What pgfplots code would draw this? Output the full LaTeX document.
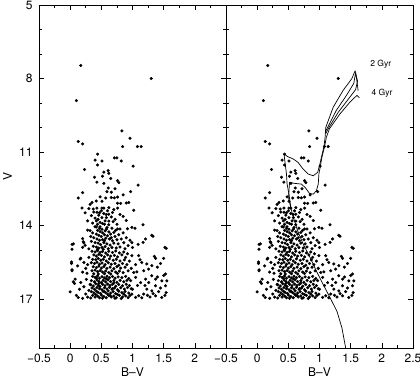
\documentclass[border=0pt]{standalone}
\usepackage{pgfplots}
\pgfplotsset{compat=1.18}
\usepackage{pgfplotstable}
\usepackage{fontspec}
\setmainfont{TeX Gyre Heros}

\pgfplotstableread{
bv V
0.17 7.47
1.30 8.00
0.10 8.90
0.83 10.14
0.96 10.44
0.13 10.57
0.20 10.67
0.84 10.78
1.08 10.78
1.14 10.78
0.44 11.09
0.40 11.33
0.51 11.37
0.71 11.24
0.75 11.24
0.82 11.37
0.44 11.53
1.01 11.58
0.23 11.71
0.54 11.82
0.61 11.76
0.62 11.87
0.52 11.99
0.39 12.03
0.65 12.08
0.76 12.17
0.78 12.25
0.43 12.23
0.54 12.28
1.09 12.35
0.61 12.47
0.72 12.50
0.97 12.62
0.59 12.62
0.66 12.64
0.20 12.66
0.85 12.75
0.13 12.88
0.48 12.83
0.57 12.88
0.66 12.86
0.71 12.87
0.76 12.84
0.35 13.06
0.32 13.14
0.42 13.00
0.51 13.01
0.76 13.09
0.81 13.10
0.90 13.08
0.94 13.06
0.19 13.29
0.30 13.31
0.37 13.33
0.43 13.29
0.51 13.29
0.54 13.29
0.62 13.27
0.76 13.29
1.02 13.38
0.24 13.48
0.43 13.46
0.47 13.48
0.54 13.51
0.62 13.54
0.68 13.47
0.34 13.60
0.46 13.58
0.51 13.68
0.58 13.68
0.85 13.63
0.28 13.81
0.42 13.81
0.48 13.87
0.56 13.81
0.62 13.82
0.69 13.84
0.62 13.97
1.17 13.97
0.40 13.70
0.45 13.75
0.52 13.92
0.58 13.55
0.36 13.90
0.50 13.40
0.66 13.65
0.72 13.75
0.55 13.95
0.44 13.95
0.38 13.45
0.60 13.40
0.70 13.35
0.80 13.55
0.90 13.80
0.75 13.95
0.28 14.19
0.32 14.21
0.42 14.06
0.47 14.11
0.51 14.15
0.59 14.08
0.67 14.11
0.76 14.14
0.80 14.14
0.92 14.13
0.99 14.08
1.04 14.11
1.31 14.40
1.33 14.44
0.20 14.54
0.21 14.66
0.03 14.77
0.03 14.97
0.24 14.81
0.05 14.75
0.22 14.71
0.20 14.89
0.99 14.70
1.09 14.77
1.17 14.69
1.54 14.93
1.21 14.55
1.52 14.89
0.40 14.05
0.44 14.20
0.48 14.25
0.52 14.30
0.56 14.22
0.62 14.26
0.70 14.28
0.36 14.30
0.42 14.35
0.46 14.40
0.50 14.45
0.55 14.38
0.60 14.42
0.65 14.35
0.72 14.45
0.78 14.38
0.85 14.30
0.38 14.50
0.43 14.55
0.47 14.60
0.52 14.58
0.57 14.52
0.63 14.55
0.68 14.62
0.75 14.58
0.82 14.55
0.90 14.50
0.34 14.65
0.40 14.70
0.45 14.72
0.49 14.78
0.54 14.70
0.59 14.75
0.64 14.80
0.70 14.72
0.77 14.75
0.86 14.70
0.93 14.82
0.37 14.85
0.42 14.88
0.46 14.92
0.51 14.90
0.56 14.86
0.61 14.95
0.67 14.90
0.74 14.92
0.80 14.88
0.88 14.95
0.44 14.98
0.53 14.97
0.30 14.95
0.33 14.45
0.58 14.15
0.66 14.50
0.73 14.20
0.48 14.05
0.55 14.62
0.96 14.60
1.00 14.90
0.02 15.49
0.02 15.55
0.03 15.81
0.03 15.85
0.17 15.34
0.16 15.37
0.22 15.51
0.12 15.65
0.25 15.75
0.20 15.90
0.28 15.60
0.30 15.30
0.27 15.95
1.37 15.34
1.50 15.34
1.35 15.26
1.31 15.64
1.53 15.98
0.99 15.23
1.10 15.23
1.15 15.51
1.23 15.57
1.26 15.78
1.18 15.85
1.07 15.89
1.02 15.92
1.40 15.70
1.45 15.55
0.95 15.45
1.05 15.60
0.98 15.75
1.12 15.40
0.35 15.05
0.40 15.08
0.44 15.03
0.48 15.10
0.52 15.06
0.57 15.12
0.62 15.05
0.68 15.10
0.73 15.04
0.79 15.12
0.86 15.08
0.92 15.15
0.38 15.20
0.42 15.25
0.46 15.18
0.50 15.22
0.55 15.28
0.60 15.20
0.65 15.25
0.71 15.22
0.76 15.28
0.83 15.20
0.89 15.30
0.36 15.38
0.41 15.40
0.45 15.35
0.49 15.42
0.53 15.38
0.58 15.45
0.63 15.36
0.69 15.42
0.74 15.38
0.80 15.45
0.87 15.40
0.34 15.52
0.39 15.55
0.43 15.50
0.47 15.58
0.51 15.53
0.56 15.60
0.61 15.52
0.66 15.58
0.72 15.55
0.78 15.62
0.84 15.55
0.91 15.60
0.37 15.68
0.42 15.72
0.46 15.66
0.50 15.74
0.54 15.68
0.59 15.75
0.64 15.70
0.70 15.76
0.75 15.68
0.81 15.74
0.88 15.70
0.35 15.85
0.40 15.82
0.44 15.88
0.48 15.84
0.52 15.90
0.57 15.86
0.62 15.92
0.67 15.85
0.73 15.90
0.79 15.86
0.85 15.92
0.93 15.85
0.38 15.97
0.45 15.98
0.55 15.97
0.65 15.98
0.76 15.96
0.08 16.19
0.05 16.30
0.07 16.37
0.17 16.33
0.00 16.71
0.13 16.94
0.20 16.97
0.10 16.85
0.15 16.60
0.22 16.50
0.25 16.80
0.28 16.92
0.30 16.65
0.32 16.40
0.26 16.20
1.50 16.04
1.31 16.05
1.37 16.19
1.21 16.19
1.13 16.33
1.26 16.33
1.37 16.46
1.23 16.60
1.31 16.67
1.18 16.80
1.37 16.87
1.10 16.87
0.99 16.80
1.47 16.26
1.55 16.26
1.53 16.46
1.54 16.74
1.47 16.94
1.42 16.70
1.28 16.92
1.15 16.95
1.05 16.93
1.00 16.60
1.08 16.45
0.97 16.25
1.05 16.12
1.20 16.45
1.45 16.55
1.33 16.78
1.24 16.85
1.52 16.85
1.40 16.10
0.36 16.08
0.40 16.12
0.44 16.06
0.47 16.15
0.51 16.09
0.55 16.14
0.59 16.07
0.63 16.13
0.68 16.08
0.72 16.15
0.77 16.10
0.83 16.13
0.89 16.08
0.94 16.16
0.34 16.25
0.39 16.30
0.43 16.22
0.46 16.28
0.50 16.33
0.53 16.24
0.57 16.30
0.61 16.22
0.65 16.29
0.70 16.25
0.75 16.32
0.80 16.24
0.86 16.30
0.91 16.24
0.33 16.42
0.37 16.47
0.41 16.38
0.45 16.44
0.48 16.49
0.52 16.40
0.56 16.46
0.60 16.39
0.64 16.45
0.68 16.40
0.73 16.48
0.78 16.41
0.84 16.46
0.90 16.40
0.95 16.45
0.35 16.55
0.39 16.60
0.43 16.53
0.47 16.58
0.51 16.62
0.55 16.54
0.59 16.59
0.63 16.52
0.67 16.60
0.71 16.55
0.76 16.62
0.81 16.54
0.87 16.60
0.92 16.53
0.98 16.58
0.34 16.70
0.38 16.75
0.42 16.68
0.45 16.73
0.49 16.78
0.53 16.69
0.57 16.74
0.61 16.67
0.65 16.76
0.69 16.70
0.73 16.78
0.78 16.68
0.83 16.74
0.88 16.69
0.94 16.76
0.36 16.85
0.40 16.92
0.44 16.88
0.47 16.95
0.50 16.84
0.54 16.90
0.58 16.95
0.62 16.86
0.66 16.92
0.70 16.88
0.74 16.95
0.79 16.85
0.84 16.92
0.89 16.87
0.93 16.94
0.33 16.96
0.60 16.80
0.76 16.82
0.96 16.86
0.42 16.15
0.58 16.18
0.70 16.35
0.46 16.36
0.55 16.70
0.64 16.85
0.52 16.97
0.72 16.97
0.82 16.98
0.41 16.82
0.68 16.58
0.86 16.80
}\stars

\pgfplotstableread{
bv V
1.42 19.00
1.36 18.18
1.28 17.50
1.17 16.95
1.06 16.41
0.95 15.86
0.85 15.31
0.74 14.77
0.65 14.22
0.58 13.67
0.54 13.27
0.51 12.72
0.48 12.31
0.47 11.90
0.45 11.49
0.43 11.08
0.49 11.19
0.575 11.28
0.655 11.42
0.735 11.69
0.82 11.90
0.90 11.97
0.97 11.83
1.00 11.56
1.03 11.22
1.07 10.80
1.09 10.40
1.10 10.00
1.22 9.17
1.38 8.48
1.52 8.00
1.57 7.69
}\isoA

\pgfplotstableread{
bv V
0.54 13.27
0.505 12.90
0.51 12.58
0.52 12.24
0.60 12.28
0.71 12.31
0.77 12.45
0.84 12.69
0.90 12.72
0.95 12.58
0.98 12.31
0.99 11.90
1.01 11.63
1.04 11.20
1.08 10.80
1.11 10.40
1.16 10.05
1.33 9.44
1.49 8.96
1.60 8.69
1.64 8.78
}\isoB

\pgfplotstableread{
bv V
1.09 10.20
1.12 10.05
1.27 9.30
1.43 8.70
1.55 8.20
1.58 7.75
1.60 8.10
1.62 8.50
}\isoC

\pgfplotstableread{
bv V
1.10 10.25
1.14 10.05
1.30 9.38
1.46 8.85
1.58 8.45
1.61 8.10
1.58 7.80
}\isoD

\begin{document}
\begin{tikzpicture}
\path[use as bounding box] (-39pt,-31pt) rectangle (381pt,348pt);
\pgfplotsset{
  cmd/.style={
    scale only axis, width=187pt, height=343pt,
    xmin=-0.5, xmax=2.5, ymin=5, ymax=19, y dir=reverse,
    xtick={-0.5,0,0.5,1,1.5,2,2.5},
    minor x tick num=1,
    ytick={5,8,11,14,17}, minor y tick num=2,
    tick pos=both, tick align=inside,
    major tick length=5pt, minor tick length=3pt,
    axis line style={line width=0.7pt},
    every tick/.style={line width=0.6pt, black},
    tick label style={font=\fontsize{12}{14}\selectfont},
    xticklabel style={yshift=-2pt},
    yticklabel style={xshift=-3pt},
    xlabel={B–V},
    xlabel style={font=\fontsize{12}{14}\selectfont, at={(axis description cs:0.5,-0.07)}, anchor=center},
    clip=true,
  }
}
\begin{axis}[cmd, at={(0pt,0pt)}, anchor=south west,
  xticklabels={−0.5,0,0.5,1,1.5,2,{}},
  yticklabels={5,8,11,14,17},
  ylabel={V},
  ylabel style={font=\fontsize{12}{14}\selectfont, at={(axis description cs:-0.168,0.5)}, anchor=center},
]
\addplot[only marks, mark=*, mark size=1.35pt, black] table[x=bv,y=V] {\stars};
\end{axis}
\begin{axis}[cmd, at={(187pt,0pt)}, anchor=south west,
  xticklabels={−0.5,0,0.5,1,1.5,2,2.5},
  yticklabels={},
]
\addplot[only marks, mark=*, mark size=1.35pt, black] table[x=bv,y=V] {\stars};
\addplot[no marks, line width=0.7pt, black] table[x=bv,y=V] {\isoA};
\addplot[no marks, line width=0.7pt, black] table[x=bv,y=V] {\isoB};
\addplot[no marks, line width=0.7pt, black] table[x=bv,y=V] {\isoC};
\addplot[no marks, line width=0.7pt, black] table[x=bv,y=V] {\isoD};
\node[anchor=west, font=\fontsize{8.5}{10}\selectfont] at (axis cs:1.76,7.42) {2 Gyr};
\node[anchor=west, font=\fontsize{8.5}{10}\selectfont] at (axis cs:1.78,8.59) {4 Gyr};
\end{axis}
\end{tikzpicture}
\end{document}
